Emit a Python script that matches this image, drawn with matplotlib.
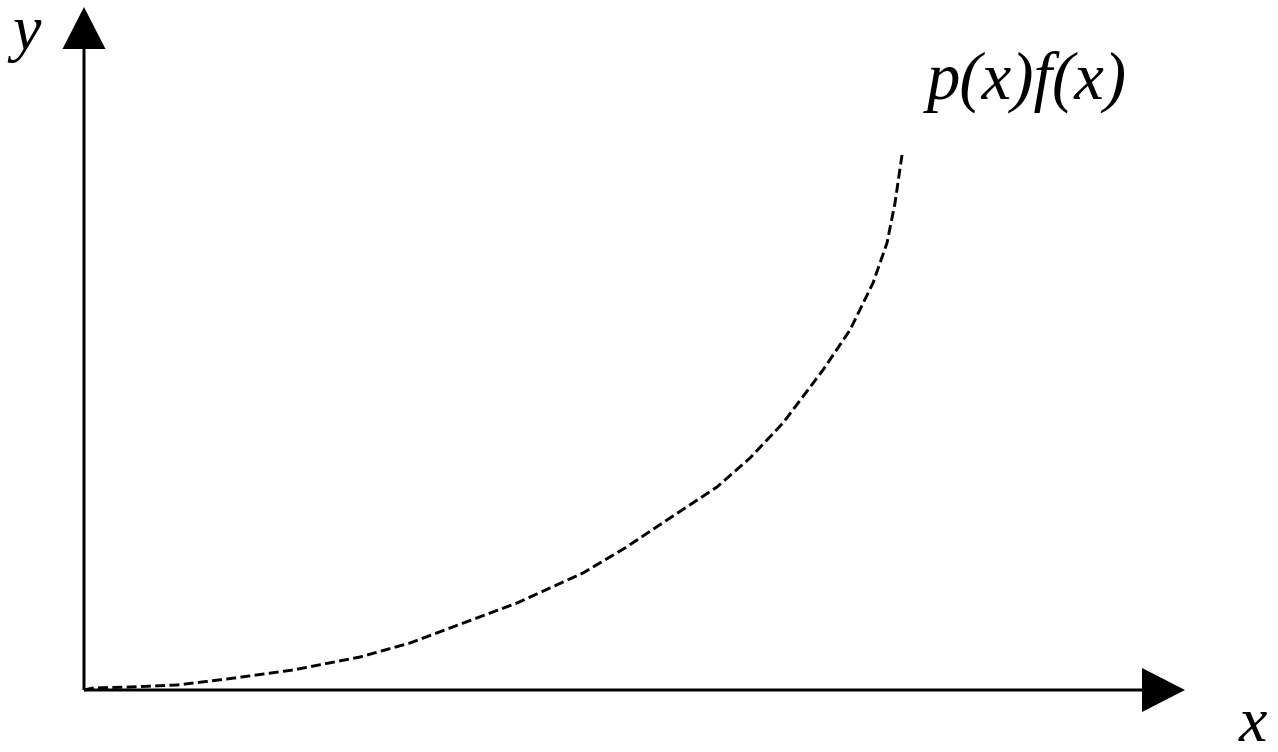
import matplotlib
matplotlib.use("Agg")
import matplotlib.pyplot as plt

# curve (units = pixels from the origin)
curveX = [0, 9, 46, 93, 143, 209, 276, 326, 366, 433, 499, 541, 583, 633, 666, 699, 739, 766, 789, 803, 811, 818]
curveY = [0, 2, 3, 5, 11, 20, 33, 47, 62, 87, 117, 142, 170, 203, 232, 267, 320, 360, 407, 447, 487, 535]
curveLabel = "p(x)f(x)"
xLabel, yLabel = "x", "y"

if __name__ == "__main__":
    serif = ["Liberation Serif", "DejaVu Serif"]
    fig = plt.figure(figsize=(12.78, 7.52), dpi=100)
    ax = fig.add_axes([0, 0, 1, 1])
    ax.set_xlim(-84, 1194)
    ax.set_ylim(-62, 690)
    ax.axis("off")

    # axes with arrow heads
    ax.arrow(0, 0, 1101, 0, width=3, head_width=44, head_length=43,
             length_includes_head=True, color="k", lw=0)
    ax.arrow(0, 0, 0, 683, width=3, head_width=43, head_length=42,
             length_includes_head=True, color="k", lw=0)

    ax.plot(curveX, curveY, c="k", lw=2.1, linestyle=(0, (3.4, 1.5)),
            solid_joinstyle="round")

    ax.text(-57, 656, yLabel, fontsize=46, family=serif, style="italic", ha="center", va="center")
    ax.text(1169, -36, xLabel, fontsize=46, family=serif, style="italic", ha="center", va="center")
    ax.text(843, 608, curveLabel, fontsize=48, family=serif, style="italic", ha="left", va="center")

    plt.savefig("out.png", dpi=100)
    plt.close()
